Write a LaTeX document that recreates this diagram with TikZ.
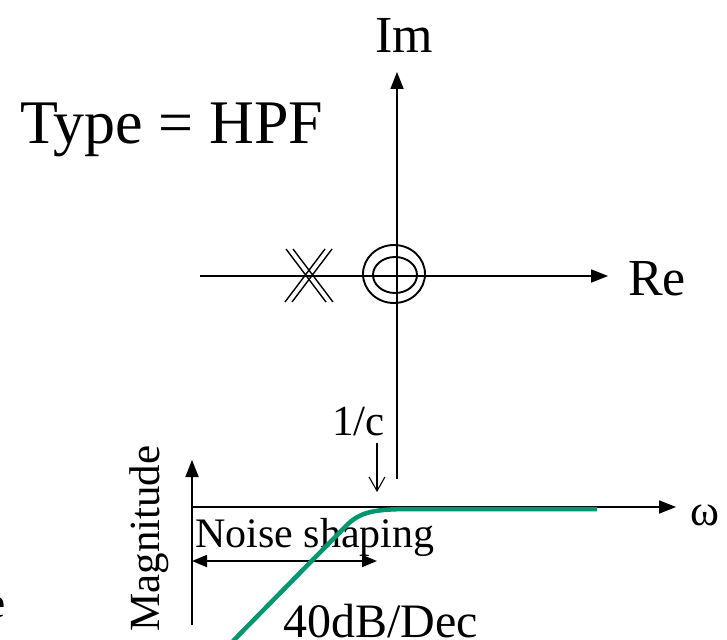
\documentclass[tikz,border=0pt]{standalone}
\usepackage{fontspec}
\setmainfont{Liberation Serif}
\usetikzlibrary{arrows.meta}
\definecolor{curvegreen}{RGB}{0,150,112}
\tikzset{
  txt/.style={inner sep=0pt, anchor=base west},
  axis/.style={line width=1.8pt, -{Triangle[length=17pt,width=13pt]}},
  thinaxis/.style={line width=1.6pt},
  polemark/.style={line width=1.4pt},
  zeromark/.style={line width=1.9pt},
  spanarrow/.style={line width=1.8pt, {Triangle[length=15pt,width=12pt]}-{Triangle[length=15pt,width=12pt]}},
  markarrow/.style={line width=1.1pt, -{Straight Barb[length=14pt,width=16pt,line width=1.1pt]}},
  response/.style={line width=4.5pt, curvegreen}
}
\begin{document}
\begin{tikzpicture}[x=1pt,y=-1pt]
\useasboundingbox (0,0) rectangle (727,639);
% texts
\node[txt, font=\fontsize{62}{70}\selectfont] (type) at (20,143) {Type = HPF};
\node[txt, font=\fontsize{52}{60}\selectfont] (im) at (375,53) {Im};
\node[txt, font=\fontsize{52}{60}\selectfont] (re) at (628,295) {Re};
\node[txt, font=\fontsize{43}{50}\selectfont] (oneoverc) at (332,435) {1/c};
\node[txt, font=\fontsize{42}{50}\selectfont] (noise) at (195,547) {Noise shaping};
\node[txt, font=\fontsize{48}{56}\selectfont] (slope) at (283,637) {40dB/Dec};
\node[txt, font=\fontsize{44}{52}\selectfont] (omega) at (690,525) {ω};
\node[txt, font=\fontsize{43}{50}\selectfont, rotate=90] (mag) at (159,632) {Magnitude};
\node[txt, font=\fontsize{43}{50}\selectfont] (frag) at (-14,617) {e};
% pole-zero axes
\coordinate (reL) at (200,276);
\coordinate (reR) at (608,276);
\coordinate (imB) at (397,479);
\coordinate (imT) at (397,72);
\draw[axis] (reL) -- (reR);
\draw[axis] (imB) -- (imT);
% double pole
\draw[polemark] (286,249) -- (326,302) (325,249) -- (285,302);
\draw[polemark] (293,249) -- (333,302) (332,249) -- (292,302);
% double zero
\draw[zeromark] (394,274) ellipse [x radius=31, y radius=29];
\draw[zeromark] (395,275) ellipse [x radius=22, y radius=18];
% 1/c marker
\coordinate (cTop) at (377,443);
\coordinate (cTip) at (377,492);
\draw[markarrow] (cTop) -- (cTip);
% magnitude plot axes
\coordinate (origin) at (192,507);
\coordinate (magB) at (192,625);
\coordinate (magT) at (192,460);
\coordinate (wR) at (676,507);
\draw[axis] (magB) -- (magT);
\draw[axis] (origin) -- (wR);
% noise shaping span
\coordinate (nsL) at (192,561);
\coordinate (nsR) at (377,561);
\draw[spanarrow] (nsL) -- (nsR);
% response curve
\draw[response] (233,641) -- (345,527) .. controls (360,511) and (375,509) .. (415,509) -- (597,509);
\end{tikzpicture}
\end{document}
